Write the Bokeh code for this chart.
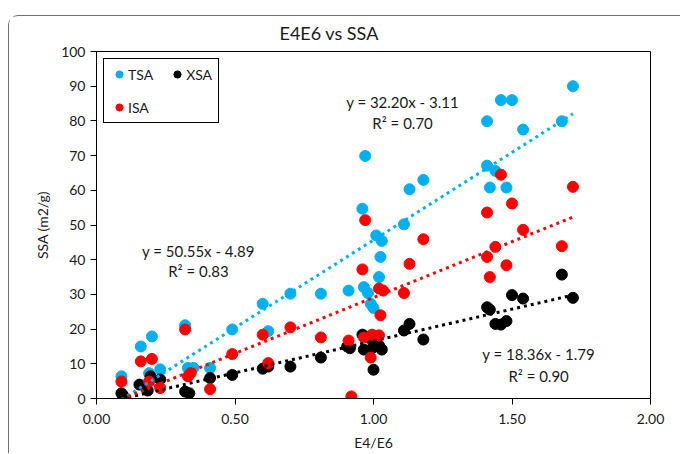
from bokeh.plotting import figure
from bokeh.models import Range1d, FixedTicker, NumeralTickFormatter, Legend, LegendItem, Label
from bokeh.embed import file_html
from bokeh.resources import INLINE

# ---- data ----
tsa_x = [0.09, 0.16, 0.20, 0.19, 0.23, 0.32, 0.33, 0.35, 0.41, 0.49, 0.60, 0.62, 0.70, 0.81,
         0.91, 0.96, 0.97, 0.965, 0.98, 0.99, 1.00, 1.01, 1.03, 1.025, 1.02, 1.11, 1.13, 1.18,
         1.41, 1.41, 1.44, 1.42, 1.46, 1.50, 1.48, 1.54, 1.68, 1.72]
tsa_y = [6.4, 15.0, 17.9, 7.3, 8.4, 21.1, 8.8, 8.8, 8.8, 19.9, 27.3, 19.4, 30.2, 30.2,
         31.1, 54.7, 69.9, 32.1, 30.4, 27.3, 26.1, 47.0, 45.4, 40.8, 35.0, 50.2, 60.3, 63.0,
         79.9, 67.1, 65.6, 60.8, 86.0, 86.0, 60.8, 77.5, 79.9, 90.0]

xsa_x = [0.09, 0.095, 0.155, 0.185, 0.195, 0.23, 0.32, 0.335, 0.41, 0.49, 0.60, 0.62, 0.70,
         0.81, 0.905, 0.915, 0.96, 0.975, 0.965, 0.995, 1.005, 1.03, 1.02, 1.00, 1.11, 1.13,
         1.18, 1.41, 1.42, 1.44, 1.46, 1.48, 1.50, 1.54, 1.68, 1.72]
xsa_y = [1.5, 1.0, 4.0, 2.3, 6.4, 5.5, 2.0, 1.5, 5.9, 6.8, 8.6, 9.2, 9.2,
         11.8, 15.0, 14.5, 18.4, 17.8, 14.1, 14.5, 16.0, 14.1, 15.3, 8.3, 19.6, 21.5,
         17.0, 26.3, 25.6, 21.5, 21.3, 22.3, 29.8, 28.8, 35.7, 29.0]

isa_x = [0.09, 0.16, 0.20, 0.19, 0.23, 0.32, 0.33, 0.34, 0.41, 0.49, 0.60, 0.62, 0.70, 0.81,
         0.91, 0.92, 0.96, 0.97, 0.965, 0.995, 1.02, 0.99, 1.02, 1.035, 1.025, 1.11, 1.13, 1.18,
         1.41, 1.41, 1.42, 1.44, 1.46, 1.48, 1.50, 1.54, 1.68, 1.72]
isa_y = [4.9, 10.7, 11.4, 4.9, 3.0, 19.9, 6.4, 7.3, 2.7, 12.8, 18.4, 10.2, 20.5, 17.6,
         16.7, 0.6, 37.2, 51.4, 17.6, 18.4, 18.2, 11.8, 31.7, 31.1, 24.0, 30.4, 38.8, 45.9,
         53.6, 40.8, 35.0, 43.7, 64.5, 38.4, 56.2, 48.6, 43.9, 61.0]

series_names = ["TSA", "XSA", "ISA"]
trend_slope = [50.55, 18.36, 32.20]
trend_intercept = [-4.89, -1.79, -3.11]
trend_r2 = [0.83, 0.90, 0.70]

x_ticks = [0.0, 0.5, 1.0, 1.5, 2.0]
y_ticks = [0, 10, 20, 30, 40, 50, 60, 70, 80, 90, 100]

title_text = "E4E6 vs SSA"
x_label = "E4/E6"
y_label = "SSA (m2/g)"

FONT = "Lato"
TXT = "#1a1a1a"
colors = ["#00B0F0", "#000000", "#FF0000"]

p = figure(width=672, height=438, output_backend="svg", toolbar_location=None,
           x_range=Range1d(0, 2), y_range=Range1d(0, 100),
           min_border_left=87, min_border_right=31, min_border_top=35, min_border_bottom=56)
p.styles = {"margin-top": "15px", "margin-left": "8px",
            "border-top": "1px solid #707070", "border-left": "1px solid #707070",
            "border-top-left-radius": "10px"}

p.title.text = title_text
p.title.align = "left"
p.title.offset = 183
p.title.vertical_align = "top"
p.title.standoff = 11
p.title.text_font = FONT
p.title.text_font_size = "18px"
p.title.text_font_style = "normal"
p.title.text_color = TXT

p.grid.visible = False
p.outline_line_color = "#000000"
p.outline_line_alpha = 1
p.outline_line_width = 1

p.xaxis.ticker = FixedTicker(ticks=x_ticks)
p.xaxis.formatter = NumeralTickFormatter(format="0.00")
p.yaxis.ticker = FixedTicker(ticks=y_ticks)
p.xaxis.axis_label = x_label
p.yaxis.axis_label = y_label
for ax in (p.xaxis, p.yaxis):
    ax.major_tick_out = 6
    ax.major_tick_in = 0
    ax.minor_tick_out = 0
    ax.minor_tick_in = 0
    ax.axis_line_color = "#000000"
    ax.major_tick_line_color = "#000000"
    ax.major_label_text_font = FONT
    ax.major_label_text_font_size = "14px"
    ax.major_label_text_color = TXT
    ax.axis_label_text_font = FONT
    ax.axis_label_text_font_size = "14px"
    ax.axis_label_text_font_style = "normal"
    ax.axis_label_text_color = TXT
p.xaxis.major_label_standoff = 9
p.xaxis.axis_label_standoff = 7
p.yaxis.major_label_standoff = 5
p.yaxis.axis_label_standoff = 7

xs = [tsa_x, xsa_x, isa_x]
ys = [tsa_y, xsa_y, isa_y]
rends = []
for i in range(3):
    r = p.scatter(xs[i], ys[i], size=11, fill_color=colors[i], line_color=colors[i])
    rends.append(r)

for i in range(3):
    x0, x1 = min(xs[i]), max(xs[i])
    p.line([x0, x1], [trend_slope[i] * x0 + trend_intercept[i], trend_slope[i] * x1 + trend_intercept[i]],
           line_color=colors[i], line_width=3, line_dash="3 4")

legend = Legend(items=[LegendItem(label=series_names[i], renderers=[rends[i]]) for i in range(3)],
                location="top_left", orientation="horizontal", ncols=2,
                margin=7, padding=6, spacing=15, glyph_width=18, glyph_height=18,
                label_height=18, label_standoff=0,
                label_text_font=FONT, label_text_font_size="14px", label_text_color=TXT,
                border_line_color="#000000", border_line_width=1, border_line_alpha=1,
                background_fill_color="white", background_fill_alpha=1)
p.add_layout(legend)

eq_pos = [(0.368, 42.5, 36.7), (1.596, 12.7, 6.6), (1.105, 85.5, 79.5)]
for i in range(3):
    ex, ey1, ey2 = eq_pos[i]
    sign = "-" if trend_intercept[i] < 0 else "+"
    p.add_layout(Label(x=ex, y=ey1, text=f"y = {trend_slope[i]:.2f}x {sign} {abs(trend_intercept[i]):.2f}",
                       text_align="center", text_baseline="middle", text_font=FONT,
                       text_font_size="15px", text_color=TXT))
    p.add_layout(Label(x=ex, y=ey2, text=f"R\u00b2 = {trend_r2[i]:.2f}",
                       text_align="center", text_baseline="middle", text_font=FONT,
                       text_font_size="15px", text_color=TXT))

open("out.html", "w").write(file_html(p, INLINE))
